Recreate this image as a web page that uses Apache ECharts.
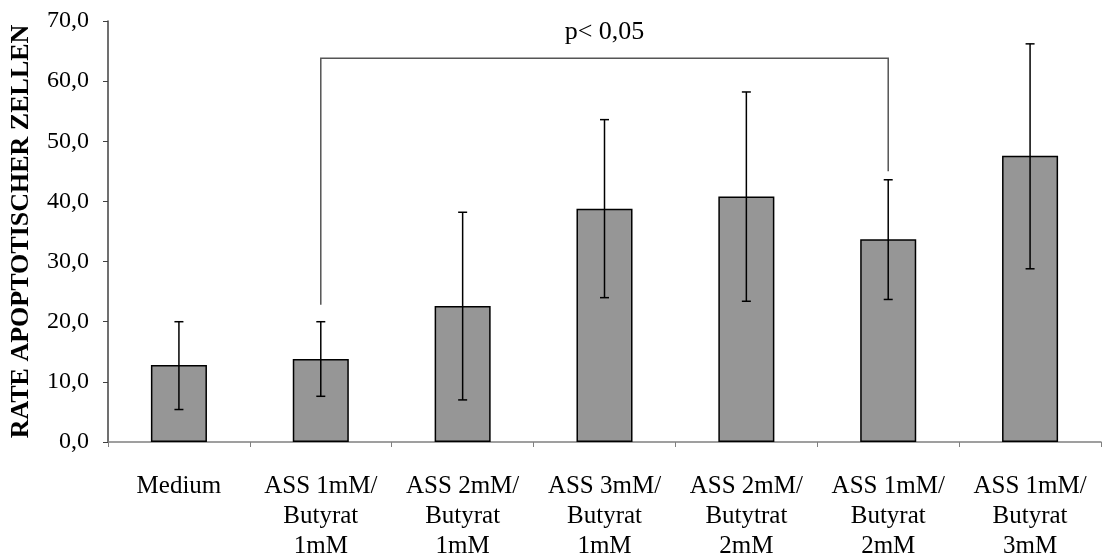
<!DOCTYPE html>
<html>
<head>
<meta charset="utf-8">
<script src="https://cdn.jsdelivr.net/npm/echarts@6/dist/echarts.min.js"></script>
<style>
  html, body { margin: 0; padding: 0; background: #fff; }
  #chart { width: 1118px; height: 554px; }
</style>
</head>
<body>
<div id="chart"></div>
<script>
const categories = [
  'Medium',
  'ASS 1mM/\nButyrat\n1mM',
  'ASS 2mM/\nButyrat\n1mM',
  'ASS 3mM/\nButyrat\n1mM',
  'ASS 2mM/\nButytrat\n2mM',
  'ASS 1mM/\nButyrat\n2mM',
  'ASS 1mM/\nButyrat\n3mM'
];
const means = [12.8, 13.8, 22.6, 38.8, 40.8, 33.7, 47.6];
const errLow = [5.4, 7.6, 7.0, 24.0, 23.4, 23.7, 28.8];
const errHigh = [20.0, 20.0, 38.2, 53.6, 58.2, 43.6, 66.2];
const yTicks = { min: 0, max: 70, interval: 10 };
const yTitle = 'RATE APOPTOTISCHER ZELLEN';
// significance bracket: [fromCategory, toCategory, leftBottom, rightBottom, top, labelValue]
const bracket = [[1, 5, 22.8, 45.0, 63.8, 68.2]];
const bracketText = 'p< 0,05';

const serif = '"Liberation Serif", "DejaVu Serif", serif';

const errData = means.map((m, i) => [i, errLow[i], errHigh[i]]);

const chart = echarts.init(document.getElementById('chart'), null, { renderer: 'canvas' });
chart.setOption({
  animation: false,
  backgroundColor: '#ffffff',
  grid: { left: 108, right: 17, top: 21, bottom: 112, containLabel: false, outerBoundsMode: 'none' },
  xAxis: {
    type: 'category',
    data: categories,
    boundaryGap: true,
    axisLine: { show: true, lineStyle: { color: '#808080', width: 1.5 } },
    axisTick: { show: true, alignWithLabel: false, length: 5, lineStyle: { color: '#808080' } },
    axisLabel: {
      interval: 0,
      margin: 29,
      color: '#000',
      fontFamily: serif,
      fontSize: 25,
      lineHeight: 30,
      verticalAlign: 'top'
    },
    splitLine: { show: false }
  },
  yAxis: {
    type: 'value',
    min: yTicks.min,
    max: yTicks.max,
    interval: yTicks.interval,
    name: yTitle,
    nameLocation: 'middle',
    nameGap: 74,
    nameTextStyle: { fontFamily: serif, fontSize: 26, fontWeight: 'bold', color: '#000' },
    axisLine: { show: true, lineStyle: { color: '#404040', width: 1.5 } },
    axisTick: { show: true, length: 5, lineStyle: { color: '#404040' } },
    axisLabel: {
      margin: 19,
      color: '#000',
      fontFamily: serif,
      fontSize: 24,
      formatter: v => v.toFixed(1).replace('.', ',')
    },
    splitLine: { show: false }
  },
  series: [
    {
      type: 'bar',
      data: means,
      barWidth: '39.5%',
      itemStyle: { color: '#969696', borderColor: '#000', borderWidth: 1.5 },
      z: 2
    },
    {
      type: 'custom',
      data: errData,
      z: 3,
      renderItem: function (params, api) {
        const i = api.value(0);
        const lo = api.coord([i, api.value(1)]);
        const hi = api.coord([i, api.value(2)]);
        const w = 4.5;
        const style = { stroke: '#000', lineWidth: 1.5 };
        return {
          type: 'group',
          children: [
            { type: 'line', shape: { x1: hi[0], y1: hi[1], x2: lo[0], y2: lo[1] }, style: style },
            { type: 'line', shape: { x1: hi[0] - w, y1: hi[1], x2: hi[0] + w, y2: hi[1] }, style: style },
            { type: 'line', shape: { x1: lo[0] - w, y1: lo[1], x2: lo[0] + w, y2: lo[1] }, style: style }
          ]
        };
      }
    },
    {
      type: 'custom',
      data: bracket,
      z: 4,
      renderItem: function (params, api) {
        const a = api.value(0), b = api.value(1);
        const p1 = api.coord([a, api.value(2)]);
        const p2 = api.coord([a, api.value(4)]);
        const p3 = api.coord([b, api.value(4)]);
        const p4 = api.coord([b, api.value(3)]);
        const t = api.coord([(a + b) / 2, api.value(5)]);
        return {
          type: 'group',
          children: [
            {
              type: 'polyline',
              shape: { points: [p1, p2, p3, p4] },
              style: { stroke: '#555', lineWidth: 1.5, fill: null }
            },
            {
              type: 'text',
              x: t[0], y: t[1],
              style: {
                text: bracketText,
                fontFamily: serif,
                fontSize: 26,
                fill: '#000',
                align: 'center',
                verticalAlign: 'middle'
              }
            }
          ]
        };
      }
    }
  ]
});
</script>
</body>
</html>
